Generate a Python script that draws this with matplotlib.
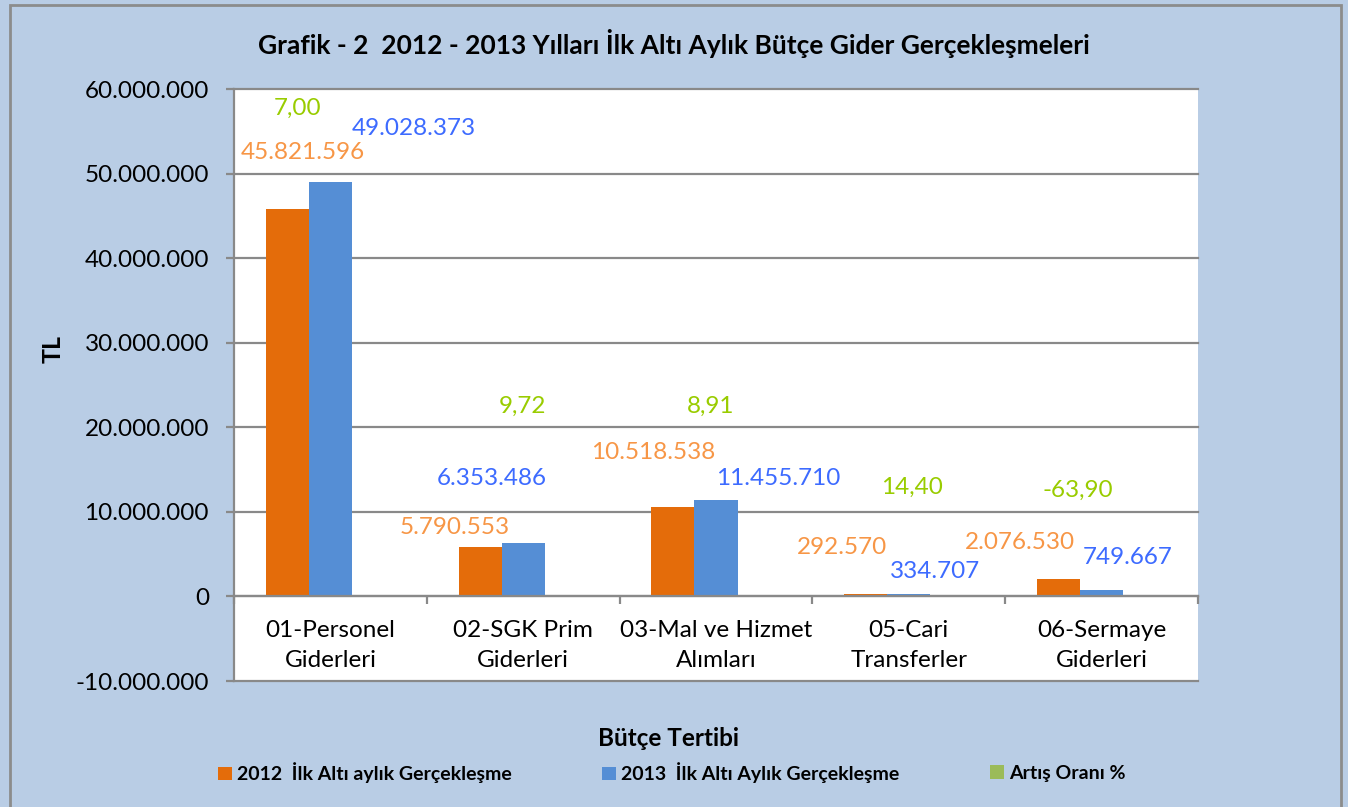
"""
Grafik - 2: 2012 - 2013 first-half budget expenditures by budget item.
"""

import numpy as np
import matplotlib.pyplot as plt
from matplotlib.patches import Rectangle, Patch
from matplotlib.ticker import FuncFormatter

plt.rcParams['font.family'] = ['Lato', 'DejaVu Sans']

categories = ["01-Personel\nGiderleri", "02-SGK Prim\nGiderleri", "03-Mal ve Hizmet\nAlımları",
              "05-Cari\nTransferler", "06-Sermaye\nGiderleri"]
values_2012 = [45821596, 5790553, 10518538, 292570, 2076530]
values_2013 = [49028373, 6353486, 11455710, 334707, 749667]
artis_orani = [7.00, 9.72, 8.91, 14.40, -63.90]
series_names = ["2012  İlk Altı aylık Gerçekleşme", "2013  İlk Altı Aylık Gerçekleşme", "Artış Oranı %"]

# manual label offsets (pixels) as placed in the original sheet
OFF_2012 = [(15, 56), (-25, 20), (-20, 55), (-24, 46), (-39, 36)]
OFF_2013 = [(83, 53), (-31, 64), (62, 21), (26, 22), (26, 33)]
OFF_RATE = [(-76, 488), (-44, 190), (-48, 190), (-40, 109), (-67, 106)]

BG = "#B9CDE5"
GRID = "#898989"
BAR_COLORS = ["#E46C0A", "#558ED5", "#9BBB59"]
LABEL_COLORS = ["#F79646", "#3D6BFF", "#99CC00"]
FS = 17.5


def tr_int(v):
    return f"{v:,.0f}".replace(",", ".")


def tr_rate(v):
    return f"{v:.2f}".replace(".", ",")


def main():
    fig = plt.figure(figsize=(13.48, 8.07), dpi=100, facecolor=BG)
    fig.patches.append(Rectangle((10 / 1348, -0.01), 1331 / 1348, 1 - 5 / 807 + 0.01,
                                 transform=fig.transFigure, fill=False,
                                 edgecolor="#8C8C8C", lw=2))
    ax = fig.add_axes([234 / 1348, 1 - 681 / 807, 964 / 1348, 592 / 807])
    ax.set_facecolor("white")

    x = np.arange(len(categories))
    w = 0.2235
    ax.bar(x - w, values_2012, w, color=BAR_COLORS[0], zorder=3)
    ax.bar(x, values_2013, w, color=BAR_COLORS[1], zorder=3)
    ax.bar(x + w, artis_orani, w, color=BAR_COLORS[2], zorder=3)

    for i in range(len(categories)):
        ax.annotate(tr_int(values_2012[i]), xy=(x[i] - w, values_2012[i]),
                    xytext=OFF_2012[i], textcoords='offset pixels',
                    ha='center', va='center', fontsize=FS, color=LABEL_COLORS[0])
        ax.annotate(tr_int(values_2013[i]), xy=(x[i], values_2013[i]),
                    xytext=OFF_2013[i], textcoords='offset pixels',
                    ha='center', va='center', fontsize=FS, color=LABEL_COLORS[1])
        ax.annotate(tr_rate(artis_orani[i]), xy=(x[i] + w, 0),
                    xytext=OFF_RATE[i], textcoords='offset pixels',
                    ha='center', va='center', fontsize=FS, color=LABEL_COLORS[2])

    ax.set_xlim(-0.5, len(categories) - 0.5)
    ax.set_ylim(-10e6, 60e6)
    ax.set_yticks(np.arange(-10e6, 60e6 + 1, 10e6))
    ax.yaxis.set_major_formatter(FuncFormatter(lambda v, p: tr_int(v)))
    ax.grid(True, axis='y', color=GRID, lw=1.6, zorder=1)
    for gl in ax.get_ygridlines():
        gl.set_clip_on(False)

    for s in ["top", "right"]:
        ax.spines[s].set_visible(False)
    ax.spines["left"].set_color(GRID)
    ax.spines["left"].set_linewidth(1.6)
    ax.spines["bottom"].set_position(("data", 0))
    ax.spines["bottom"].set_color(GRID)
    ax.spines["bottom"].set_linewidth(1.6)
    ax.spines["bottom"].set_zorder(4)

    ax.set_xticks(np.arange(-0.5, len(categories), 1.0))
    ax.set_xticklabels([])
    ax.set_xticks(x, minor=True)
    ax.set_xticklabels(categories, minor=True, fontsize=FS, linespacing=1.55)
    ax.tick_params(axis='x', which='major', direction='out', length=5.5, width=1.6, color=GRID)
    ax.tick_params(axis='x', which='minor', length=0, pad=17)
    ax.tick_params(axis='y', direction='out', length=6, width=1.6, color=GRID,
                   labelsize=FS, pad=12)

    fig.text(0.5, 1 - 44 / 807,
             "Grafik - 2  2012 - 2013 Yılları İlk Altı Aylık Bütçe Gider Gerçekleşmeleri",
             ha='center', va='center', fontsize=19, fontweight='bold')
    fig.text(53 / 1348, 1 - 349 / 807, "TL", rotation=90, ha='center', va='center',
             fontsize=18, fontweight='bold')
    fig.text(668 / 1348, 1 - 738 / 807, "Bütçe Tertibi", ha='center', va='center',
             fontsize=17.5, fontweight='bold')

    # legend: one entry per anchor, spaced as in the original
    leg_x = [218, 602, 990]
    for name, color, lx in zip(series_names, BAR_COLORS, leg_x):
        leg = fig.legend(handles=[Patch(facecolor=color)], labels=[name],
                         loc='center left', bbox_to_anchor=(lx / 1348, 1 - 773 / 807),
                         frameon=False, fontsize=14, handlelength=0.7, handleheight=0.7,
                         handletextpad=0.3, borderpad=0, borderaxespad=0)
        for t in leg.get_texts():
            t.set_fontweight('bold')

    fig.savefig("out.png", dpi=100, facecolor=BG)
    plt.close(fig)


if __name__ == "__main__":
    main()
